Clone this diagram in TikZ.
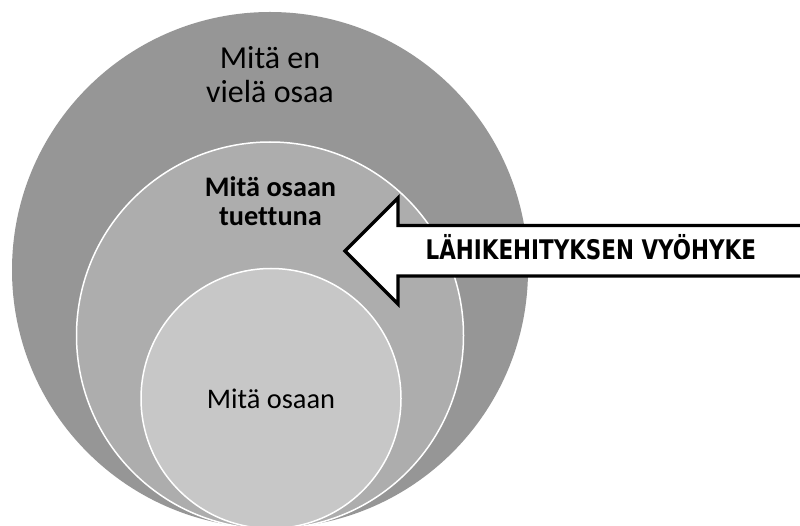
\documentclass[tikz,border=0pt]{standalone}
\usepackage{fontspec}
\setmainfont{Carlito}[Ligatures=NoCommon]
\newfontfamily\arrowfont[FakeStretch=0.795]{DejaVu Sans}
\definecolor{OuterClr}{RGB}{150,150,150}
\definecolor{MiddleClr}{RGB}{173,173,173}
\definecolor{InnerClr}{RGB}{199,199,199}
\tikzset{
  zone/.style={circle,inner sep=0pt,draw=white,line width=1.5pt},
  zonetext/.style={align=center,inner sep=0pt,text=black,anchor=base}
}

\begin{document}
\begin{tikzpicture}[x=1pt,y=-1pt]
\useasboundingbox (0,0) rectangle (800,526);
\clip (0,0) rectangle (800,526);

% nested circles
\node[zone,fill=OuterClr,draw=none,minimum size=516pt] (outer) at (270,270) {};
\node[zone,fill=MiddleClr,minimum size=387pt] (middle) at (270,335.5) {};
\node[zone,fill=InnerClr,minimum size=260pt] (inner) at (271,398.5) {};

% base = last line
\node[zonetext,font=\fontsize{32}{34}\selectfont] (outtxt) at (270,103) {Mitä en\\vielä osaa};
\node[zonetext,font=\bfseries\fontsize{28.3}{29.5}\selectfont] (midtxt) at (270.5,226) {Mitä osaan\\tuettuna};
\node[zonetext,font=\fontsize{28.4}{30}\selectfont] (intxt) at (271,408.3) {Mitä osaan};

% block arrow
\coordinate (tip) at (345,251);
\coordinate (headT) at (398,198);
\coordinate (headB) at (398,304);
\draw[line width=3.3pt,fill=white,line join=miter] (tip) -- (headT) -- (398,225.5) -- (830,225.5)
  -- (830,276) -- (398,276) -- (headB) -- cycle;
\node[anchor=base,inner sep=0pt,font=\arrowfont\bfseries\fontsize{27}{30}\selectfont] (zpd) at (590.8,260) {LÄHIKEHITYKSEN VYÖHYKE};

\end{tikzpicture}
\end{document}
